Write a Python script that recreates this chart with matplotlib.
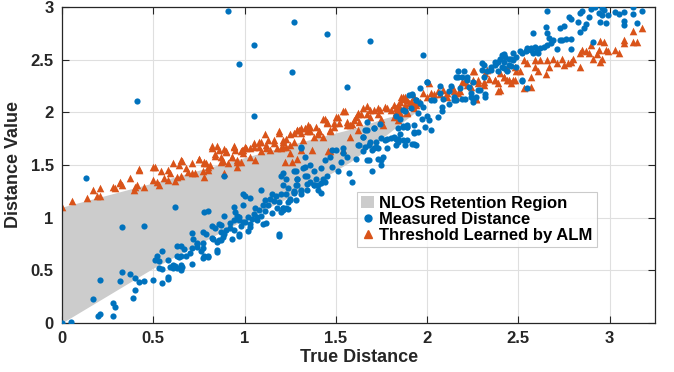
import matplotlib
matplotlib.use('Agg')
import matplotlib.pyplot as plt
from matplotlib.patches import Patch
from matplotlib.lines import Line2D

plt.rcParams['font.family'] = ['Liberation Sans', 'DejaVu Sans']
plt.rcParams['font.weight'] = 'bold'

# NLOS retention region (lower / upper edge)
region_x = [0, 0.5, 1.0, 1.31, 1.58, 1.78, 1.95]
region_lower = [0, 0.52, 0.98, 1.25, 1.53, 1.79, 2.02]
region_upper = [1.1, 1.33, 1.57, 1.72, 1.84, 1.95, 2.02]

# measured distance (true, measured)
meas_x = [0.0, 0.05, 0.17, 0.21, 0.196, 0.21, 0.28, 0.28, 0.29, 0.33, 0.32, 0.33, 0.37, 0.39, 0.40,
          0.40, 0.42, 0.45, 0.45, 0.50, 0.51, 0.52, 0.53, 0.55, 0.53, 0.55, 0.55, 0.58, 0.58, 0.58,
          0.59, 0.61, 0.62, 0.63, 0.65, 0.66, 0.62, 0.63, 0.65, 0.64, 0.67, 0.61, 0.65, 0.71, 0.71,
          0.72, 0.74, 0.76, 0.77, 0.77, 0.80, 0.74, 0.77, 0.79, 0.83, 0.85, 0.87, 0.93, 0.94, 0.97,
          1.00, 0.98, 0.80, 0.82, 0.84, 0.86, 0.87, 0.85, 0.89, 0.90, 0.92, 0.94, 0.95, 0.97, 0.97,
          1.00, 1.02, 1.03, 1.04, 1.05, 1.07, 1.08, 1.10, 1.11, 1.12, 1.14, 1.17, 1.19, 1.20, 1.21,
          1.24, 1.27, 1.28, 1.31, 1.34, 1.38, 1.42, 1.44, 0.63, 0.65, 0.71, 0.74, 0.77, 0.78, 0.80,
          0.82, 0.85, 0.86, 0.88, 0.68, 0.70, 0.78, 0.87, 0.89, 0.92, 0.94, 0.96, 0.99, 1.02, 1.03,
          1.06, 1.07, 1.09, 1.10, 1.11, 1.13, 1.15, 1.18, 1.19, 1.20, 1.21, 1.23, 1.24, 1.27, 1.29,
          1.31, 0.99, 0.99, 1.03, 1.09, 1.15, 1.16, 1.20, 1.21, 1.24, 1.25, 1.28, 1.29, 1.31, 1.32,
          1.33, 1.34, 1.33, 1.36, 1.38, 1.39, 1.40, 1.42, 1.44, 1.45, 1.47, 1.48, 1.50, 1.51, 1.53,
          1.54, 1.56, 1.57, 1.59, 1.61, 1.62, 1.65, 1.67, 1.70, 1.71, 1.72, 1.75, 1.75, 1.75, 1.78,
          1.80, 1.83, 1.85, 1.87, 1.89, 1.92, 1.83, 1.87, 1.91, 1.94, 1.71, 1.67, 1.21, 1.23, 1.27,
          1.28, 1.29, 1.31, 1.33, 1.34, 1.36, 1.38, 1.40, 1.42, 1.43, 1.27, 1.25, 1.23, 1.21, 1.31,
          1.54, 1.48, 1.65, 1.68, 1.73, 1.74, 1.78, 1.84, 1.85, 1.66, 1.69, 1.72, 1.68, 1.63, 1.82,
          1.84, 1.93, 1.87, 1.89, 1.93, 1.94, 1.77, 1.76, 1.73, 1.70, 1.66, 1.65, 1.71, 1.67, 1.88,
          1.90, 1.92, 1.94, 1.96, 1.98, 2.00, 2.01, 2.02, 1.99, 1.95, 1.97, 2.00, 1.96, 2.02, 2.09,
          2.07, 2.12, 2.15, 2.06, 2.08, 1.87, 1.89, 1.93, 1.95, 1.83, 1.84, 1.89, 1.88, 1.93, 2.00,
          2.07, 2.13, 2.17, 2.19, 2.22, 2.24, 2.21, 2.25, 2.25, 2.29, 2.32, 2.31, 2.35, 2.37, 2.39,
          2.40, 2.43, 2.39, 2.42, 2.45, 1.92, 2.04, 2.08, 2.15, 2.12, 2.16, 2.17, 2.20, 2.22, 2.25,
          2.27, 2.28, 2.30, 2.31, 2.33, 2.32, 2.35, 2.24, 2.19, 2.16, 2.18, 2.23, 2.30, 2.37, 2.38,
          2.41, 2.46, 2.49, 2.52, 2.55, 2.57, 2.59, 2.61, 2.42, 2.47, 2.51, 2.54, 2.55, 2.57, 2.58,
          2.60, 2.62, 2.64, 2.42, 2.45, 2.47, 2.41, 2.44, 2.46, 2.49, 2.52, 2.55, 2.52, 2.66, 2.58,
          2.65, 2.66, 2.67, 2.68, 2.73, 2.75, 2.78, 2.79, 2.74, 2.76, 2.79, 2.79, 2.83, 2.84, 2.85,
          2.84, 2.86, 2.87, 2.89, 2.90, 2.92, 2.95, 2.94, 2.96, 2.97, 2.99, 2.96, 2.91, 2.98, 3.03,
          3.05, 3.08, 3.08, 3.08, 3.13, 3.13, 3.15, 3.18, 2.71, 2.69, 2.73, 2.66,
          0.91, 0.97, 1.05, 1.27, 1.26, 1.45, 0.41, 1.05, 0.13, 0.89, 1.69, 1.98, 1.56, 1.19, 0.97]
meas_y = [0.0, 0.01, 0.23, 0.41, 0.07, 0.08, 0.07, 0.19, 0.155, 0.48, 0.40, 0.91, 0.46, 0.24, 0.31,
          0.43, 0.39, 0.40, 0.92, 0.41, 0.60, 0.64, 0.59, 0.68, 0.52, 0.51, 0.38, 0.42, 0.44, 0.60,
          0.53, 0.52, 0.54, 0.52, 0.50, 0.53, 1.10, 0.73, 0.73, 0.63, 0.70, 0.55, 0.55, 0.56, 0.85,
          0.80, 0.76, 0.68, 0.71, 0.62, 0.63, 0.72, 0.76, 0.84, 0.80, 0.69, 0.79, 0.80, 0.88, 0.84,
          0.96, 0.92, 1.06, 0.92, 0.90, 0.94, 0.86, 0.77, 0.84, 0.88, 0.95, 1.10, 1.05, 1.01, 0.98,
          1.21, 0.87, 0.94, 0.99, 1.03, 1.01, 1.07, 1.12, 1.17, 0.95, 1.18, 1.21, 0.84, 1.05, 1.09,
          1.08, 1.24, 1.17, 1.22, 1.26, 1.31, 1.33, 1.34, 0.64, 0.64, 0.71, 0.75, 0.86, 0.64, 0.64,
          0.81, 0.67, 0.79, 0.82, 0.64, 0.66, 1.05, 0.93, 1.02, 0.90, 0.98, 1.02, 0.96, 1.01, 0.91,
          1.09, 0.98, 1.02, 0.94, 1.06, 1.12, 1.04, 1.09, 1.15, 1.22, 1.09, 1.22, 1.15, 1.25, 1.31,
          1.25, 1.22, 1.12, 1.19, 1.26, 1.22, 1.16, 1.40, 1.31, 1.28, 1.18, 1.44, 1.37, 1.66, 1.47,
          1.40, 1.32, 1.58, 1.50, 1.44, 1.37, 1.31, 1.47, 1.55, 1.40, 1.58, 1.48, 1.64, 1.44, 1.53,
          1.66, 1.58, 1.42, 1.34, 1.56, 1.69, 1.77, 1.55, 1.44, 1.66, 1.72, 1.55, 1.50, 1.76, 1.66,
          1.76, 1.69, 1.79, 1.87, 1.88, 1.70, 1.97, 2.02, 2.04, 2.12, 1.85, 1.83, 1.42, 1.37, 1.44,
          1.31, 1.37, 1.26, 1.48, 1.40, 1.34, 1.31, 1.26, 1.23, 1.37, 1.23, 1.17, 1.09, 1.07, 1.67,
          1.61, 1.64, 1.63, 1.55, 1.56, 1.89, 1.75, 1.75, 1.94, 1.83, 1.72, 1.67, 1.69, 1.69, 1.77,
          1.85, 1.88, 1.74, 1.86, 1.80, 1.69, 1.74, 1.58, 1.66, 1.64, 1.67, 1.77, 1.85, 1.91, 2.01,
          2.16, 2.16, 2.12, 2.09, 2.05, 1.97, 1.93, 1.83, 1.86, 1.99, 1.94, 2.29, 2.23, 2.12, 2.13,
          2.18, 2.20, 2.15, 1.96, 2.01, 1.86, 1.86, 1.81, 1.81, 1.75, 1.72, 1.74, 1.69, 1.70, 2.29,
          2.25, 2.25, 2.34, 2.34, 2.34, 2.18, 2.13, 2.13, 2.10, 2.21, 2.15, 2.45, 2.40, 2.45, 2.48,
          2.51, 2.53, 2.39, 2.42, 2.45, 2.17, 2.12, 2.05, 2.12, 2.08, 2.34, 2.39, 2.39, 2.31, 2.29,
          2.15, 2.21, 2.40, 2.34, 2.39, 2.17, 2.43, 2.15, 2.13, 2.12, 2.23, 2.24, 2.47, 2.48, 2.47,
          2.54, 2.51, 2.53, 2.56, 2.59, 2.61, 2.62, 2.56, 2.55, 2.56, 2.58, 2.58, 2.61, 2.59, 2.56,
          2.59, 2.61, 2.62, 2.48, 2.51, 2.50, 2.43, 2.39, 2.44, 2.43, 2.30, 2.23, 2.31, 2.96, 2.75,
          2.81, 2.75, 2.71, 2.66, 2.80, 2.82, 2.91, 2.89, 2.69, 2.70, 2.70, 2.60, 2.86, 2.94, 2.96,
          2.76, 2.80, 2.84, 2.91, 2.98, 3.00, 2.86, 2.94, 2.92, 2.97, 2.92, 2.99, 2.67, 2.85, 2.95,
          2.93, 2.95, 2.87, 2.83, 3.00, 2.93, 2.85, 2.96, 2.60, 2.69, 2.69, 2.64,
          2.96, 2.46, 2.64, 2.86, 2.38, 2.74, 2.11, 1.97, 1.38, 1.40, 2.68, 2.54, 2.24, 0.83, 0.83]

# threshold learned by ALM (true, threshold)
alm_x = [0.002, 0.053, 0.135, 0.168, 0.19, 0.21, 0.21, 0.28, 0.29, 0.32, 0.33, 0.37, 0.395, 0.40,
         0.41, 0.42, 0.45, 0.51, 0.50, 0.52, 0.53, 0.54, 0.56, 0.58, 0.59, 0.58, 0.61, 0.63, 0.62,
         0.64, 0.66, 0.65, 0.68, 0.69, 0.71, 0.73, 0.75, 0.77, 0.78, 0.79, 0.78, 0.80, 0.82, 0.85,
         0.84, 0.87, 0.88, 0.89, 0.90, 0.91, 0.93, 0.94, 0.95, 0.96, 0.96, 0.98, 0.99, 0.81, 0.71,
         0.78, 0.80, 0.82, 0.84, 0.86, 0.87, 0.89, 0.90, 0.93, 0.94, 0.96, 0.98, 0.99, 1.01, 1.03,
         1.05, 1.06, 1.08, 1.09, 1.12, 1.14, 1.16, 1.19, 1.20, 1.21, 1.23, 1.25, 1.27, 1.29, 1.31,
         1.34, 1.36, 1.38, 1.41, 1.43, 1.45, 1.47, 1.49, 1.50, 1.54, 1.56, 1.59, 1.61, 1.62, 1.65,
         1.67, 1.69, 1.73, 1.75, 1.77, 1.80, 1.83, 1.85, 1.87, 1.90, 1.93, 1.46, 0.985, 1.00, 1.03,
         1.05, 1.08, 1.09, 1.11, 1.13, 1.12, 1.16, 1.18, 1.19, 1.21, 1.23, 1.25, 1.27, 1.29, 1.30,
         1.31, 1.32, 1.33, 1.35, 1.36, 1.39, 1.40, 1.41, 1.43, 1.44, 1.45, 1.47, 1.49, 1.51, 1.52,
         1.55, 1.56, 1.58, 1.60, 1.62, 1.63, 1.64, 1.67, 1.69, 1.71, 1.73, 1.74, 1.75, 1.78, 1.76,
         1.82, 1.84, 1.85, 1.87, 1.88, 1.89, 1.91, 1.93, 1.95, 1.89, 1.21, 1.25, 1.29, 1.31, 1.22,
         1.26, 1.37, 1.47, 1.54, 1.58, 1.62, 0.65, 0.75, 0.50, 0.42, 0.32, 2.01, 1.86, 1.88, 1.91,
         1.93, 1.84, 1.83, 1.85, 1.82, 1.84, 1.89, 1.94, 1.96, 1.98, 2.00, 2.02, 2.04, 2.06, 2.07,
         2.09, 2.11, 2.14, 2.17, 2.18, 2.19, 2.22, 2.25, 2.25, 2.28, 2.31, 2.32, 2.34, 2.37, 2.39,
         2.40, 2.42, 2.44, 2.39, 2.46, 2.27, 2.16, 2.40, 2.47, 2.37, 2.33, 2.28, 2.26, 2.20, 2.24,
         2.27, 2.31, 2.15, 2.11, 2.42, 2.45, 2.48, 2.44, 2.48, 2.49, 2.51, 2.53, 2.55, 2.57, 2.53,
         2.57, 2.59, 2.59, 2.61, 2.62, 2.65, 2.66, 2.67, 2.69, 2.71, 2.74, 2.75, 2.77, 2.79, 2.80,
         2.84, 2.84, 2.85, 2.87, 2.89, 2.90, 2.91, 2.93, 2.94, 2.95, 2.97, 2.95, 2.96, 2.98, 2.99,
         3.03, 3.05, 3.08, 3.08, 3.13, 3.13, 3.15, 3.18]
alm_y = [1.10, 1.16, 1.19, 1.26, 1.21, 1.21, 1.28, 1.29, 1.28, 1.33, 1.31, 1.38, 1.26, 1.29,
         1.31, 1.46, 1.29, 1.48, 1.36, 1.34, 1.31, 1.44, 1.38, 1.45, 1.42, 1.36, 1.52, 1.39, 1.35,
         1.50, 1.54, 1.40, 1.47, 1.43, 1.42, 1.42, 1.56, 1.44, 1.52, 1.52, 1.39, 1.45, 1.68, 1.68,
         1.60, 1.58, 1.54, 1.65, 1.62, 1.52, 1.58, 1.68, 1.64, 1.48, 1.55, 1.53, 1.64, 1.50, 1.52,
         1.53, 1.48, 1.66, 1.59, 1.64, 1.53, 1.42, 1.63, 1.58, 1.67, 1.53, 1.63, 1.61, 1.66, 1.58,
         1.67, 1.55, 1.72, 1.63, 1.69, 1.64, 1.74, 1.82, 1.66, 1.72, 1.75, 1.69, 1.80, 1.83, 1.85,
         1.82, 1.86, 1.77, 1.82, 1.94, 1.91, 1.82, 1.86, 1.96, 2.01, 1.91, 1.89, 1.96, 1.99, 2.04,
         1.98, 2.02, 2.04, 1.94, 2.05, 2.02, 2.04, 2.10, 2.13, 2.09, 2.15, 1.63, 1.64, 1.67, 1.66,
         1.71, 1.67, 1.72, 1.79, 1.74, 1.66, 1.71, 1.66, 1.80, 1.74, 1.67, 1.79, 1.72, 1.83, 1.83,
         1.80, 1.74, 1.85, 1.88, 1.82, 1.86, 1.79, 1.82, 1.77, 1.94, 1.90, 1.83, 1.90, 1.96, 1.90,
         2.01, 1.88, 1.88, 1.93, 1.98, 1.91, 1.98, 2.06, 1.96, 2.02, 1.98, 2.02, 1.91, 2.04, 1.88,
         2.07, 2.01, 2.04, 2.15, 2.07, 1.99, 2.10, 2.04, 2.09, 2.12, 1.67, 1.61, 1.56, 1.64, 1.53,
         1.53, 1.64, 1.63, 1.64, 1.77, 1.83, 1.55, 1.56, 1.48, 1.45, 1.34, 2.28, 2.15, 2.15, 2.10,
         2.09, 2.07, 2.00, 1.99, 1.96, 1.93, 2.00, 2.07, 2.10, 2.18, 2.15, 2.18, 2.17, 2.20, 2.17,
         2.21, 2.18, 2.23, 2.18, 2.20, 2.29, 2.26, 2.31, 2.39, 2.28, 2.29, 2.37, 2.32, 2.31, 2.28,
         2.37, 2.34, 2.31, 2.20, 2.28, 2.13, 2.15, 2.21, 2.31, 2.31, 2.40, 2.31, 2.39, 2.29, 2.24,
         2.13, 2.26, 2.20, 2.15, 2.34, 2.31, 2.31, 2.42, 2.43, 2.39, 2.39, 2.50, 2.47, 2.34, 2.23,
         2.24, 2.50, 2.43, 2.39, 2.50, 2.36, 2.50, 2.43, 2.51, 2.47, 2.51, 2.45, 2.47, 2.48, 2.51,
         2.43, 2.56, 2.59, 2.58, 2.56, 2.64, 2.51, 2.55, 2.59, 2.68, 2.67, 2.48, 2.51, 2.59, 2.58,
         2.59, 2.56, 2.69, 2.66, 2.77, 2.67, 2.67, 2.80]

blue = '#0072BD'
orange = '#D95319'

fig = plt.figure(figsize=(6.74, 3.72), dpi=100)
ax = fig.add_axes([0.092, 0.132, 0.88, 0.849])

ax.fill_between(region_x, region_lower, region_upper, color='#CCCCCC', linewidth=0, zorder=1)
ax.scatter(meas_x, meas_y, s=20, color=blue, linewidths=0, zorder=3)
ax.scatter(alm_x, alm_y, s=30, marker='^', color=orange, linewidths=0, zorder=2)

ax.set_xlim(0, 3.25)
ax.set_ylim(0, 3)
ax.set_xticks([0, 0.5, 1, 1.5, 2, 2.5, 3])
ax.set_xticklabels(['0', '0.5', '1', '1.5', '2', '2.5', '3'])
ax.set_yticks([0, 0.5, 1, 1.5, 2, 2.5, 3])
ax.set_yticklabels(['0', '0.5', '1', '1.5', '2', '2.5', '3'])
ax.grid(True, color='#DFDFDF', linewidth=0.8, zorder=0)
ax.set_axisbelow(True)
ax.tick_params(direction='in', top=True, right=True, length=5, width=0.8,
               labelsize=12, colors='#262626', pad=6)
for sp in ax.spines.values():
    sp.set_color('#262626')
    sp.set_linewidth(0.9)

ax.set_xlabel('True Distance', fontsize=13, fontweight='bold', color='#262626', labelpad=2)
ax.set_ylabel('Distance Value', fontsize=13, fontweight='bold', color='#262626', labelpad=6)

handles = [Patch(facecolor='#CCCCCC', edgecolor='none'),
           Line2D([], [], marker='o', linestyle='none', color=blue, markersize=5),
           Line2D([], [], marker='^', linestyle='none', color=orange, markersize=6)]
labels = ['NLOS Retention Region', 'Measured Distance', 'Threshold Learned by ALM']
leg = ax.legend(handles, labels, loc='upper left', bbox_to_anchor=(0.497, 0.415),
                fontsize=12, frameon=True, fancybox=False, edgecolor='#BFBFBF',
                handlelength=0.8, handletextpad=0.3, labelspacing=0.05, borderpad=0.25,
                borderaxespad=0)
leg.get_frame().set_linewidth(0.8)
leg.set_zorder(5)

fig.savefig('out.png', dpi=100)
